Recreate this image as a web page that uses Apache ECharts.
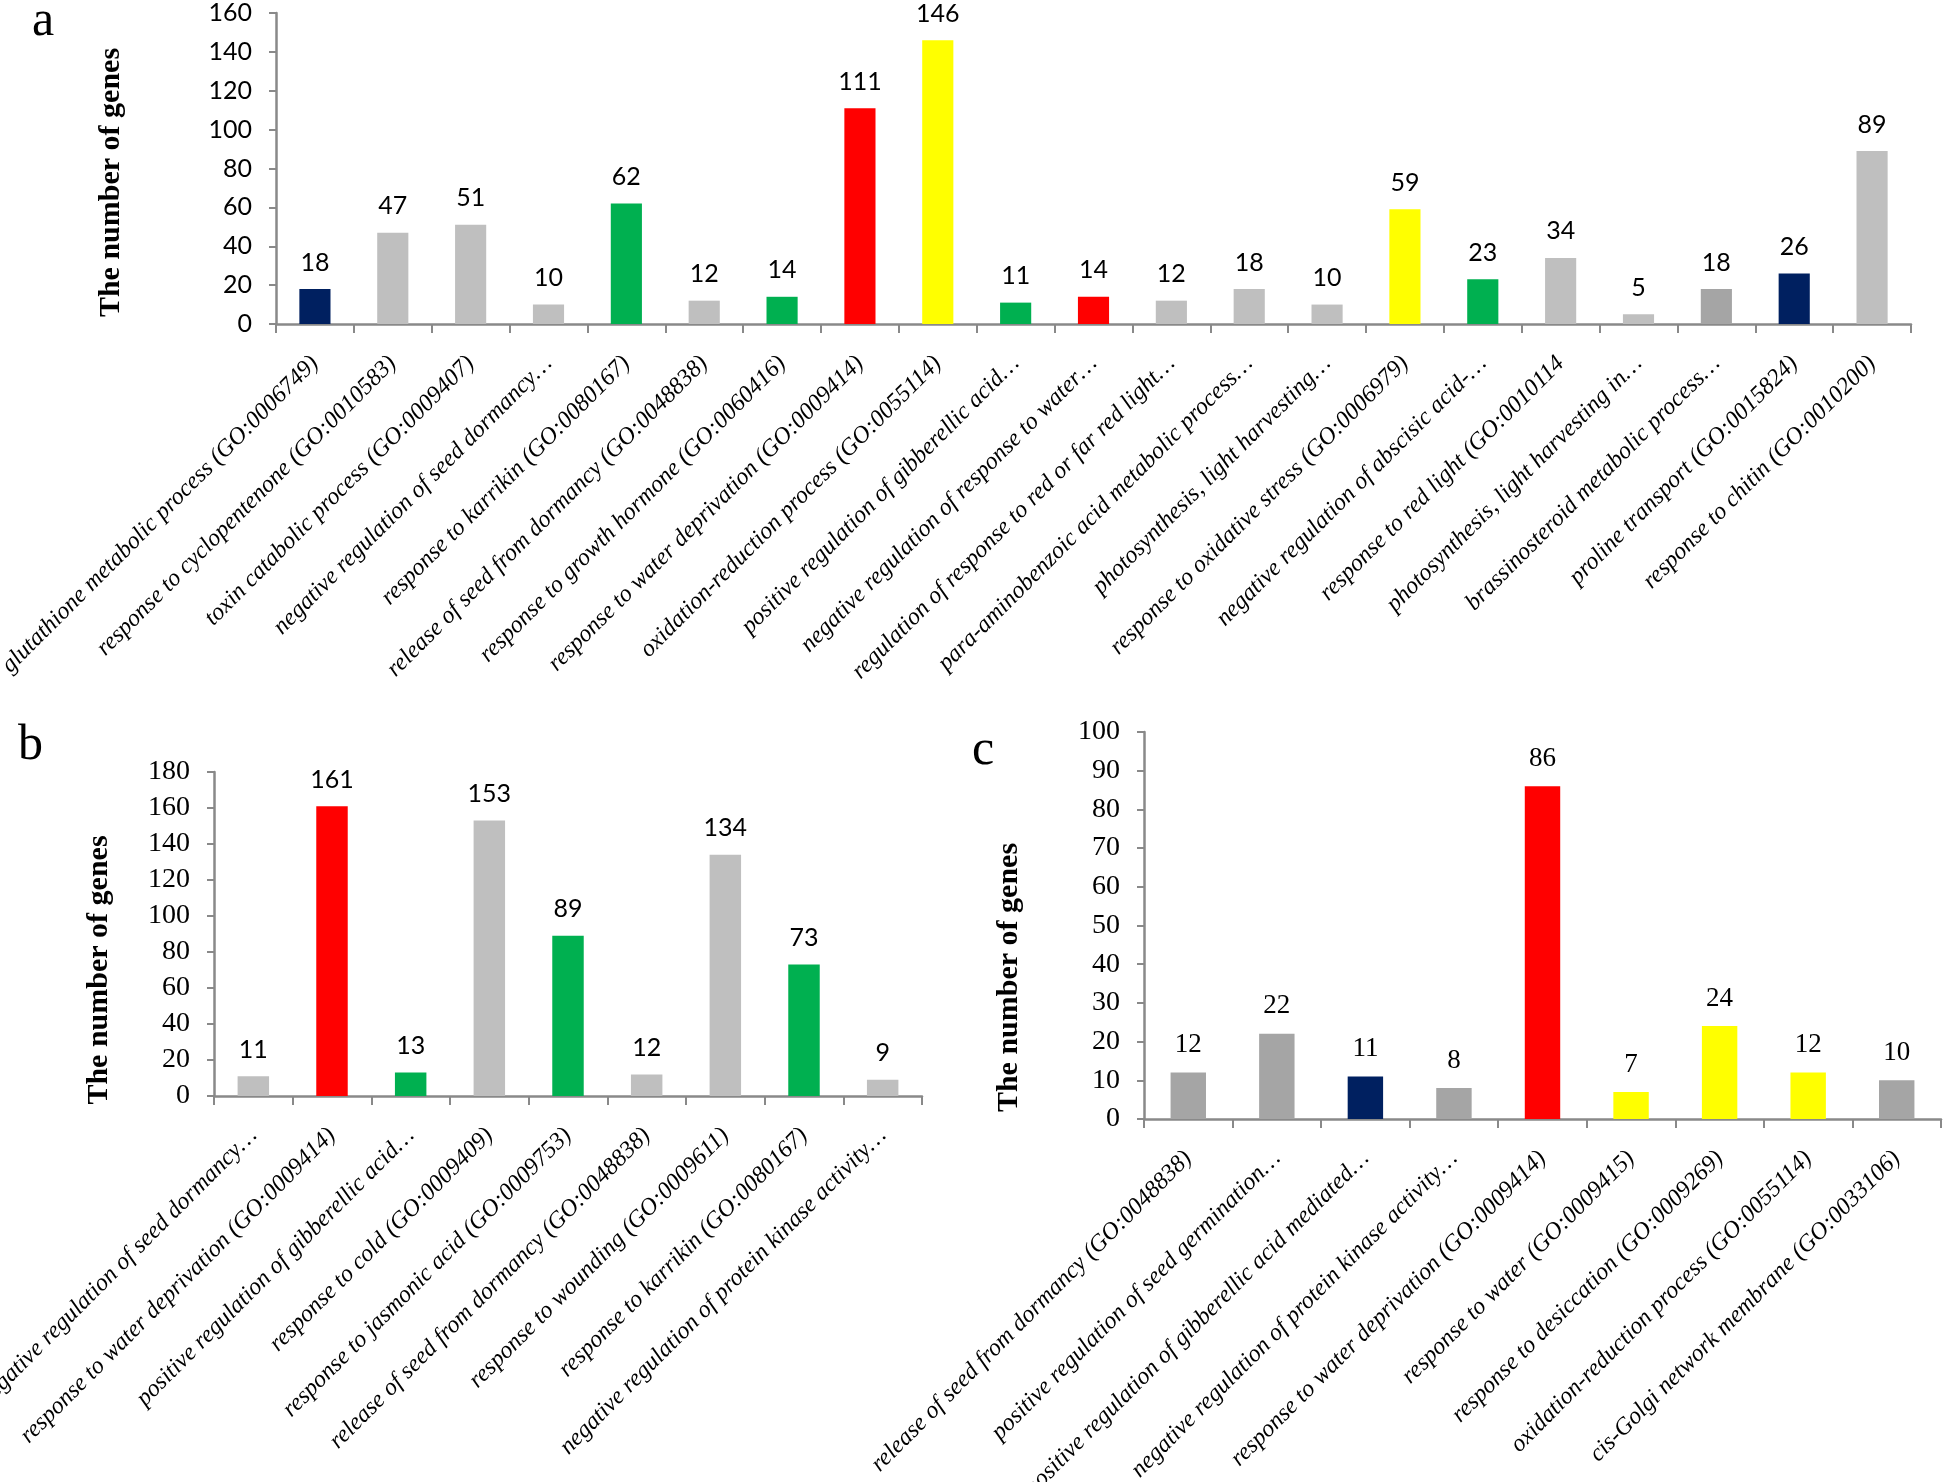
<!DOCTYPE html>
<html>
<head>
<meta charset="utf-8">
<title>GO enrichment bar charts</title>
<script src="https://cdn.jsdelivr.net/npm/echarts@6/dist/echarts.min.js"></script>
<style>
    html, body { margin: 0; padding: 0; background: #fff; }
    #main { width: 1946px; height: 1482px; }
</style>
</head>
<body>
<div id="main"></div>
<script>
// panel a
var termsA = [
    'glutathione metabolic process (GO:0006749)',
    'response to cyclopentenone (GO:0010583)',
    'toxin catabolic process (GO:0009407)',
    'negative regulation of seed dormancy\u2026',
    'response to karrikin (GO:0080167)',
    'release of seed from dormancy (GO:0048838)',
    'response to growth hormone (GO:0060416)',
    'response to water deprivation (GO:0009414)',
    'oxidation-reduction process (GO:0055114)',
    'positive regulation of gibberellic acid\u2026',
    'negative regulation of response to water\u2026',
    'regulation of response to red or far red light\u2026',
    'para-aminobenzoic acid metabolic process\u2026',
    'photosynthesis, light harvesting\u2026',
    'response to oxidative stress (GO:0006979)',
    'negative regulation of abscisic acid-\u2026',
    'response to red light (GO:0010114',
    'photosynthesis, light harvesting in\u2026',
    'brassinosteroid metabolic process\u2026',
    'proline transport (GO:0015824)',
    'response to chitin (GO:0010200)'
];
var countsA = [18, 47, 51, 10, 62, 12, 14, 111, 146, 11, 14, 12, 18, 10, 59, 23, 34, 5, 18, 26, 89];
var groupsA = ['navy', 'gray', 'gray', 'gray', 'green', 'gray', 'green', 'red', 'yellow', 'green', 'red',
    'gray', 'gray', 'gray', 'yellow', 'green', 'gray', 'gray', 'dark', 'navy', 'gray'];

// panel b
var termsB = [
    'negative regulation of seed dormancy\u2026',
    'response to water deprivation (GO:0009414)',
    'positive regulation of gibberellic acid\u2026',
    'response to cold (GO:0009409)',
    'response to jasmonic acid (GO:0009753)',
    'release of seed from dormancy (GO:0048838)',
    'response to wounding (GO:0009611)',
    'response to karrikin (GO:0080167)',
    'negative regulation of protein kinase activity\u2026'
];
var countsB = [11, 161, 13, 153, 89, 12, 134, 73, 9];
var groupsB = ['gray', 'red', 'green', 'gray', 'green', 'gray', 'gray', 'green', 'gray'];

// panel c
var termsC = [
    'release of seed from dormancy (GO:0048838)',
    'positive regulation of seed germination\u2026',
    'positive regulation of gibberellic acid mediated\u2026',
    'negative regulation of protein kinase activity\u2026',
    'response to water deprivation (GO:0009414)',
    'response to water (GO:0009415)',
    'response to desiccation (GO:0009269)',
    'oxidation-reduction process (GO:0055114)',
    'cis-Golgi network membrane (GO:0033106)'
];
var countsC = [12, 22, 11, 8, 86, 7, 24, 12, 10];
var groupsC = ['dark', 'dark', 'navy', 'dark', 'red', 'yellow', 'yellow', 'yellow', 'dark'];

var palette = {
    navy: '#002060',
    gray: '#BFBFBF',
    dark: '#A5A5A5',
    green: '#00B050',
    red: '#FF0000',
    yellow: '#FFFF00'
};

var SERIF = 'Liberation Serif';
var SANS = 'Lato';
var AXIS_COLOR = '#898989';

function barData(counts, groups) {
    return counts.map(function (v, i) {
        return { value: v, itemStyle: { color: palette[groups[i]] } };
    });
}

function catAxis(idx, terms) {
    return {
        type: 'category',
        gridIndex: idx,
        data: terms,
        axisLine: { lineStyle: { color: AXIS_COLOR, width: 2.5 } },
        axisTick: { show: true, interval: 0, length: 9, lineStyle: { color: AXIS_COLOR, width: 2 } },
        axisLabel: {
            interval: 0,
            rotate: 45,
            margin: 36,
            color: '#000',
            fontFamily: SERIF,
            fontStyle: 'italic',
            fontSize: 24
        }
    };
}

// shift = how far the title sits below the middle of the axis
function valAxis(idx, max, step, font, gap, shift) {
    return {
        type: 'value',
        gridIndex: idx,
        min: 0,
        max: max,
        interval: step,
        name: 'The number of genes',
        nameLocation: 'middle',
        nameRotate: 90,
        nameGap: gap,
        nameTextStyle: {
            fontFamily: SERIF, fontWeight: 'bold', fontSize: 30, color: '#000',
            padding: [0, shift * 2, 0, 0]
        },
        splitLine: { show: false },
        axisLine: { show: true, lineStyle: { color: AXIS_COLOR, width: 2.5 } },
        axisTick: { show: true, length: 7, lineStyle: { color: AXIS_COLOR, width: 2 } },
        axisLabel: { color: '#000', fontFamily: font, fontSize: font === SERIF ? 28 : 25, margin: 24 }
    };
}

function barSeries(idx, counts, groups, font) {
    return {
        type: 'bar',
        xAxisIndex: idx,
        yAxisIndex: idx,
        barWidth: '40%',
        data: barData(counts, groups),
        label: {
            show: true,
            position: 'top',
            distance: 14,
            color: '#000',
            fontFamily: font,
            fontSize: font === SERIF ? 27 : 25
        },
        animation: false
    };
}

var chart = echarts.init(document.getElementById('main'));
chart.setOption({
    backgroundColor: '#fff',
    animation: false,
    grid: [
        { left: 276, top: 13, width: 1635, height: 311, containLabel: false, outerBoundsMode: 'none' },
        { left: 214, top: 772, width: 708, height: 324, containLabel: false, outerBoundsMode: 'none' },
        { left: 1144, top: 732, width: 797, height: 387, containLabel: false, outerBoundsMode: 'none' }
    ],
    xAxis: [catAxis(0, termsA), catAxis(1, termsB), catAxis(2, termsC)],
    yAxis: [
        valAxis(0, 160, 20, SANS, 150, 14),
        valAxis(1, 180, 20, SERIF, 100, 36),
        valAxis(2, 100, 10, SERIF, 120, 52)
    ],
    series: [
        barSeries(0, countsA, groupsA, SANS),
        barSeries(1, countsB, groupsB, SANS),
        barSeries(2, countsC, groupsC, SERIF)
    ],
    graphic: [
        { type: 'text', left: 32, top: -3, style: { text: 'a', fontFamily: SERIF, fontSize: 50, fill: '#000' } },
        { type: 'text', left: 18, top: 721, style: { text: 'b', fontFamily: SERIF, fontSize: 50, fill: '#000' } },
        { type: 'text', left: 972, top: 726, style: { text: 'c', fontFamily: SERIF, fontSize: 50, fill: '#000' } }
    ]
});
</script>
</body>
</html>
